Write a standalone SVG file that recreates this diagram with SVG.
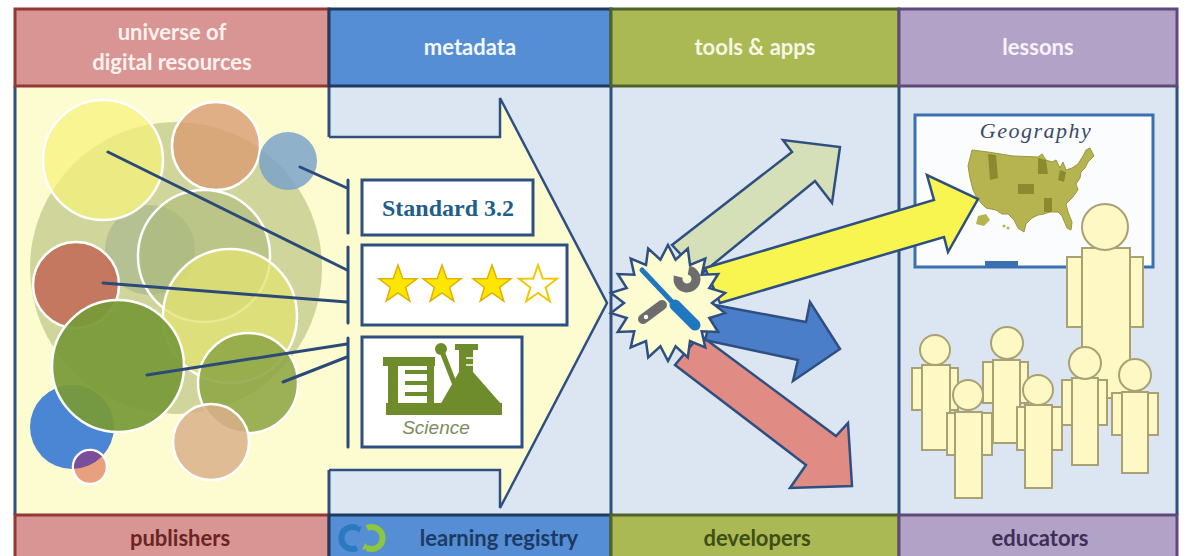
<svg xmlns="http://www.w3.org/2000/svg" width="1189" height="556" viewBox="0 0 1189 556">
<defs>
<style>
.lbl{font-family:Lato,"Open Sans","Liberation Sans",sans-serif;font-weight:700;font-size:22px;text-anchor:middle}
.link{stroke:#2b4a78;stroke-width:3;fill:none;stroke-linecap:round}
.res{stroke:#ffffff;stroke-width:2.5}
.person{fill:#fdf8c4;stroke:#a9a173;stroke-width:2}
.card{fill:#ffffff;stroke:#2e4f80;stroke-width:3}
.flow{stroke:#2e4f80;stroke-width:2.5;stroke-linejoin:miter}
.col{stroke:#2e4f80;stroke-width:3}
.sci{fill:#6f8c2c}
</style>
<path id="star" d="M0,-20 L4.7,-6.5 L19,-6.2 L7.6,2.5 L11.8,16.2 L0,8 L-11.8,16.2 L-7.6,2.5 L-19,-6.2 L-4.7,-6.5Z"/>
<clipPath id="blueClip"><circle cx="72" cy="427" r="42"/></clipPath>
</defs>

<rect width="1189" height="556" fill="#ffffff"/>

<!-- column panels -->
<g id="panels">
<rect x="15" y="86" width="314" height="429" fill="#fdfbd0"/>
<rect x="329" y="86" width="282" height="429" fill="#dce6f2"/>
<rect x="611" y="86" width="288" height="429" fill="#dce6f2"/>
<rect x="899" y="86" width="278" height="429" fill="#dce6f2"/>
<line class="col" x1="15" y1="86" x2="15" y2="515"/>
<line class="col" x1="329" y1="86" x2="329" y2="515"/>
<line class="col" x1="611" y1="86" x2="611" y2="515"/>
<line class="col" x1="899" y1="86" x2="899" y2="515"/>
<line class="col" x1="1177" y1="86" x2="1177" y2="515"/>
</g>

<!-- universe of digital resources -->
<g id="resources">
<circle cx="176" cy="268" r="146" fill="#bcc684" opacity="0.7"/>
<circle cx="150" cy="250" r="45" fill="#9fb08a" opacity="0.55"/>
<circle class="res" cx="103" cy="160" r="60" fill="#f6f27a" fill-opacity="0.72"/>
<circle class="res" cx="216" cy="146" r="44" fill="#d99c72" fill-opacity="0.8"/>
<circle cx="288" cy="161" r="29" fill="#7ba3c9" opacity="0.85"/>
<circle class="res" cx="204" cy="256" r="66" fill="#a9b878" fill-opacity="0.55"/>
<circle class="res" cx="230" cy="316" r="67" fill="#e2e270" fill-opacity="0.75"/>
<circle class="res" cx="76" cy="285" r="43" fill="#c2705a" fill-opacity="0.92"/>
<circle cx="72" cy="427" r="42" fill="#4a86d4"/>
<circle class="res" cx="118" cy="366" r="66" fill="#789a38" fill-opacity="0.93"/>
<circle class="res" cx="248" cy="383" r="50" fill="#8ea644" fill-opacity="0.88"/>
<circle class="res" cx="211" cy="442" r="38" fill="#d9b08a" fill-opacity="0.85"/>
<circle class="res" cx="90" cy="467" r="17" fill="#e9a07e"/>
<circle cx="90" cy="467" r="16" fill="#7a4f9a" clip-path="url(#blueClip)"/>
</g>

<!-- metadata arrow -->
<g id="metadata-arrow">
<path d="M326 137 L500 137 L500 98 L607 303 L500 508 L500 470 L326 470 Z" fill="#fdfbd0"/>
<path class="flow" d="M329 137 L500 137 L500 98 L607 303 L500 508 L500 470 L329 470" fill="none"/>
</g>

<!-- connectors from resources to metadata -->
<g id="connectors">
<line class="link" x1="108" y1="152" x2="347" y2="270"/>
<line class="link" x1="300" y1="167" x2="347" y2="188"/>
<line class="link" x1="103" y1="283" x2="347" y2="302"/>
<line class="link" x1="147" y1="375" x2="347" y2="344"/>
<line class="link" x1="283" y1="382" x2="347" y2="357"/>
<line class="link" x1="348" y1="180" x2="348" y2="233"/>
<line class="link" x1="348" y1="247" x2="348" y2="323"/>
<line class="link" x1="348" y1="338" x2="348" y2="447"/>
</g>

<g id="standard">
<rect class="card" x="362" y="180" width="171" height="55"/>
<text x="448" y="216" font-family="'Liberation Serif',serif" font-weight="700" font-size="24" fill="#215e8a" text-anchor="middle">Standard 3.2</text>
</g>

<g id="rating">
<rect class="card" x="362" y="245" width="205" height="80"/>
<use href="#star" x="398" y="285" fill="#ffe600" stroke="#e0b000" stroke-width="1.5"/>
<use href="#star" x="442" y="285" fill="#ffe600" stroke="#e0b000" stroke-width="1.5"/>
<use href="#star" x="492" y="285" fill="#ffe600" stroke="#e0b000" stroke-width="1.5"/>
<use href="#star" x="538" y="285" fill="#ffffff" stroke="#f0c800" stroke-width="2"/>
</g>

<g id="subject">
<rect class="card" x="362" y="337" width="160" height="110"/>
<rect class="sci" x="383" y="357" width="52" height="9"/>
<rect class="sci" x="388" y="357" width="10" height="56"/>
<rect class="sci" x="386" y="403" width="116" height="12"/>
<rect class="sci" x="405" y="370" width="22" height="4"/>
<rect class="sci" x="405" y="381" width="22" height="4"/>
<rect class="sci" x="405" y="392" width="22" height="4"/>
<rect class="sci" x="427" y="362" width="7" height="42"/>
<circle class="sci" cx="441" cy="349" r="6"/>
<line x1="441" y1="349" x2="455" y2="385" stroke="#6f8c2c" stroke-width="5"/>
<path class="sci" d="M455 344 H478 V350 H473 V372 L502 405 H440 L459 372 V350 H455 Z"/>
<line x1="466" y1="358" x2="473" y2="358" stroke="#ffffff" stroke-width="1.5"/>
<line x1="466" y1="365" x2="473" y2="365" stroke="#ffffff" stroke-width="1.5"/>
<text x="436" y="434" font-family="'Liberation Sans',sans-serif" font-style="italic" font-size="19" fill="#7b8a5c" text-anchor="middle">Science</text>
</g>

<!-- lesson board -->
<g id="board">
<rect x="915" y="115" width="238" height="152" fill="#fbfcfd" stroke="#3b6fb0" stroke-width="3"/>
<rect x="985" y="261" width="33" height="6" fill="#3b6fb0"/>
<text x="1036" y="138" font-family="'Liberation Serif',serif" font-style="italic" font-size="22" fill="#3a4a66" text-anchor="middle" letter-spacing="1.5">Geography</text>
<g transform="translate(968,148)">
<path d="M4 2 L20 4 L45 8 L70 9 L74 6 L78 12 L84 14 L88 12 L92 20 L95 14 L98 22 L104 20 L110 16 L115 8 L118 2 L122 0 L126 8 L120 14 L117 20 L113 24 L112 30 L108 36 L110 42 L104 50 L98 56 L100 64 L104 74 L103 82 L99 80 L94 68 L90 64 L82 64 L76 66 L70 67 L64 70 L58 76 L56 84 L50 80 L46 72 L40 66 L34 66 L28 62 L18 60 L14 56 L9 50 L5 42 L2 30 L0 18 Z" fill="#b6b351" stroke="#9a9840" stroke-width="1"/>
<path d="M20 6 L28 7 L30 30 L22 32 Z" fill="#8c8a2e"/>
<path d="M70 10 L78 12 L80 26 L70 26 Z" fill="#8c8a2e"/>
<path d="M50 36 L66 36 L66 46 L50 46 Z" fill="#8c8a2e"/>
<path d="M76 50 L84 50 L84 64 L76 64 Z" fill="#8c8a2e"/>
<path d="M92 22 L98 24 L96 34 L90 32 Z" fill="#8c8a2e"/>
<path d="M10 68 L18 66 L22 72 L16 78 L8 76 Z" fill="#b6b351"/>
<circle cx="36" cy="78" r="1.5" fill="#b6b351"/>
<circle cx="40" cy="80" r="1.5" fill="#b6b351"/>
</g>
</g>

<!-- educators -->
<g id="teacher">
<rect class="person" x="1067" y="257" width="15" height="70"/>
<rect class="person" x="1130" y="257" width="13" height="70"/>
<rect class="person" x="1082" y="248" width="48" height="150"/>
<circle class="person" cx="1105" cy="227" r="23"/>
</g>
<g id="student1">
<rect class="person" x="912" y="368" width="10" height="42"/>
<rect class="person" x="950" y="368" width="8" height="42"/>
<rect class="person" x="922" y="365" width="28" height="85"/>
<circle class="person" cx="935" cy="350" r="15"/>
</g>
<g id="student3">
<rect class="person" x="983" y="362" width="10" height="41"/>
<rect class="person" x="1020" y="362" width="8" height="41"/>
<rect class="person" x="993" y="360" width="27" height="83"/>
<circle class="person" cx="1007" cy="343" r="16"/>
</g>
<g id="student5">
<rect class="person" x="1062" y="380" width="10" height="45"/>
<rect class="person" x="1098" y="380" width="9" height="45"/>
<rect class="person" x="1072" y="378" width="26" height="87"/>
<circle class="person" cx="1085" cy="363" r="16"/>
</g>
<g id="student6">
<rect class="person" x="1112" y="393" width="10" height="42"/>
<rect class="person" x="1148" y="393" width="10" height="42"/>
<rect class="person" x="1122" y="392" width="26" height="81"/>
<circle class="person" cx="1135" cy="375" r="16"/>
</g>
<g id="student2">
<rect class="person" x="947" y="413" width="8" height="42"/>
<rect class="person" x="982" y="413" width="10" height="42"/>
<rect class="person" x="955" y="412" width="27" height="86"/>
<circle class="person" cx="968" cy="395" r="15"/>
</g>
<g id="student4">
<rect class="person" x="1017" y="407" width="8" height="43"/>
<rect class="person" x="1052" y="407" width="10" height="43"/>
<rect class="person" x="1025" y="405" width="27" height="83"/>
<circle class="person" cx="1038" cy="390" r="15"/>
</g>

<!-- outputs of the tools -->
<g id="tool-arrows">
<path class="flow" fill="#d6e0b8" d="M672 245 L792 152 L783 140 L840 147 L832 203 L815 181 L700 275 Z"/>
<path class="flow" fill="#e08c84" d="M700 335 L836 436 L848 423 L852 486 L790 488 L806 465 L675 365 Z"/>
<path class="flow" fill="#4a7ec8" d="M715 305 L806 322 L810 302 L840 349 L793 381 L798 360 L705 340 Z"/>
<path class="flow" fill="#f8f550" d="M705 268 L934 200 L927 175 L978 199 L948 252 L944 237 L720 303 Z"/>
</g>

<g id="tools" transform="translate(668,303)">
<polygon class="flow" fill="#fdfbd0" points="0,-58 7.6,-43.3 19.8,-54.5 22,-38.1 37.3,-44.4 33.7,-28.3 50.2,-29 41.3,-15 57.1,-10.1 44,0 57.1,10.1 41.3,15 50.2,29 33.7,28.3 37.3,44.4 22,38.1 19.8,54.5 7.6,43.3 0,58 -7.6,43.3 -19.8,54.5 -22,38.1 -37.3,44.4 -33.7,28.3 -50.2,29 -41.3,15 -57.1,10.1 -44,0 -57.1,-10.1 -41.3,-15 -50.2,-29 -33.7,-28.3 -37.3,-44.4 -22,-38.1 -19.8,-54.5 -7.6,-43.3"/>
<circle cx="19" cy="-24" r="9" fill="none" stroke="#6d6d6d" stroke-width="9" stroke-dasharray="43 13.5" transform="rotate(-80 19 -24)"/>
<line x1="-25" y1="16" x2="-6" y2="2" stroke="#6d6d6d" stroke-width="10" stroke-linecap="round"/>
<circle cx="-22" cy="14" r="2.2" fill="#ffffff"/>
<line x1="-26" y1="-33" x2="7" y2="2" stroke="#1f77c0" stroke-width="5" stroke-linecap="round"/>
<line x1="7" y1="2" x2="27" y2="22" stroke="#1f77c0" stroke-width="11" stroke-linecap="round"/>
</g>

<!-- column headers -->
<g id="hdr-resources">
<rect x="15" y="9" width="314" height="77" fill="#d99594" stroke="#953735" stroke-width="3"/>
<text class="lbl" x="172" y="40" fill="#fdf1ee">universe of</text>
<text class="lbl" x="172" y="70" fill="#fdf1ee">digital resources</text>
</g>
<g id="hdr-metadata">
<rect x="329" y="9" width="282" height="77" fill="#558ed5" stroke="#1f3a60" stroke-width="3"/>
<text class="lbl" x="470" y="55" fill="#f4f8fd">metadata</text>
</g>
<g id="hdr-tools">
<rect x="611" y="9" width="288" height="77" fill="#abb955" stroke="#4f6228" stroke-width="3"/>
<text class="lbl" x="755" y="55" fill="#f6f7e4">tools &amp; apps</text>
</g>
<g id="hdr-lessons">
<rect x="899" y="9" width="278" height="77" fill="#b3a2c7" stroke="#5f497a" stroke-width="3"/>
<text class="lbl" x="1038" y="55" fill="#f7f3fb">lessons</text>
</g>

<!-- column footers -->
<g id="ftr-publishers">
<rect x="15" y="515" width="314" height="45" fill="#d99594" stroke="#953735" stroke-width="3"/>
<text class="lbl" x="180" y="546" fill="#6a2421">publishers</text>
</g>
<g id="ftr-registry">
<rect x="329" y="515" width="282" height="45" fill="#558ed5" stroke="#1f3a60" stroke-width="3"/>
<path d="M357 528 A11 11 0 1 0 357 548" fill="none" stroke="#2a7abf" stroke-width="6"/>
<path d="M354 528 l8 -2 l-3 7 z" fill="#2a7abf"/>
<path d="M367 528 A11 11 0 1 1 367 548" fill="none" stroke="#8dc63f" stroke-width="6"/>
<path d="M370 548 l-8 2 l3 -7 z" fill="#8dc63f"/>
<text class="lbl" x="499" y="546" fill="#1c3a63">learning registry</text>
</g>
<g id="ftr-developers">
<rect x="611" y="515" width="288" height="45" fill="#abb955" stroke="#4f6228" stroke-width="3"/>
<text class="lbl" x="757" y="546" fill="#3e4e16">developers</text>
</g>
<g id="ftr-educators">
<rect x="899" y="515" width="278" height="45" fill="#b3a2c7" stroke="#5f497a" stroke-width="3"/>
<text class="lbl" x="1040" y="546" fill="#3d2f56">educators</text>
</g>
</svg>
